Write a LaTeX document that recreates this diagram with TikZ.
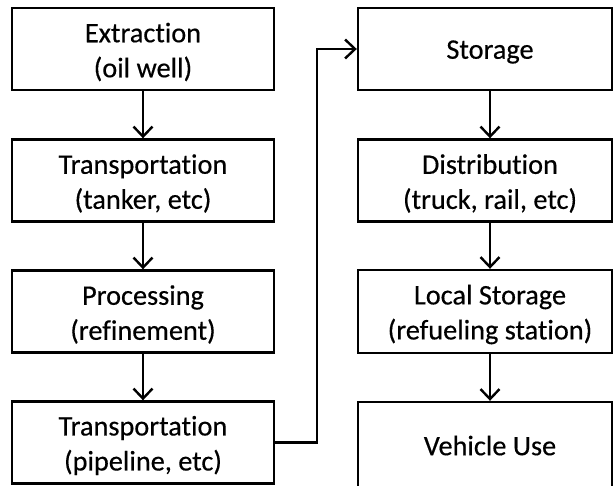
\documentclass[tikz,border=0pt]{standalone}
\usepackage{fontspec}
\setmainfont[Ligatures=NoCommon, FakeBold=0.4, BoldFont=Carlito, BoldFeatures={FakeBold=0.4}]{Carlito}
\usetikzlibrary{arrows.meta}
\begin{document}
\begin{tikzpicture}[x=1pt,y=-1pt,
  box/.style={draw=black, line width=2.4pt, fill=white, inner sep=0pt},
  lbl/.style={align=center, inner sep=0pt, font=\fontsize{28.3}{35}\selectfont\bfseries},
  leftbox/.style={box, minimum width=262pt, minimum height=82pt},
  arr/.style={draw=black, line width=2.4pt,
    -{Straight Barb[length=10pt, width=19pt, line width=2.4pt]}}]
  \useasboundingbox (0,0) rectangle (613,485);
  \clip (0,0) rectangle (613,485);

  % left column: from the well to the pipeline
  \node[leftbox] (ext) at (143,49)    {};
  \node[leftbox] (tan) at (143,180.5) {};
  \node[leftbox] (pro) at (143,311.5) {};
  \node[leftbox] (pip) at (143,442.5) {};
  \node[lbl] (extT) at (143,52)    {Extraction\\(oil well)};
  \node[lbl] (tanT) at (143,183.5) {Transportation\\(tanker, etc)};
  \node[lbl] (proT) at (143,314.5) {Processing\\(refinement)};
  \node[lbl] (pipT) at (143,445.5) {Transportation\\(pipeline, etc)};

  % right column: frames and their labels
  \node[box, minimum width=254pt, minimum height=82pt] (sto) at (485,49) {};
  \node[box, minimum width=254pt, minimum height=82pt] (dis) at (485,180.5) {};
  \node[box, minimum width=254pt, minimum height=83pt] (loc) at (485,311.5) {};
  \node[box, minimum width=254pt, minimum height=120pt] (veh) at (485,462) {};
  \node[lbl] (stoT) at (490,52)    {Storage};
  \node[lbl] (disT) at (490,183.5) {Distribution\\(truck, rail, etc)};
  \node[lbl] (locT) at (490,314.5) {Local Storage\\(refueling station)};
  \node[lbl] (vehT) at (490,445.5) {Vehicle Use};

  % flow arrows
  \draw[arr] (ext) -- (tan);
  \draw[arr] (tan) -- (pro);
  \draw[arr] (pro) -- (pip);
  \coordinate (jog) at (317,0);
  \draw[arr] (pip.east) -- (pip.east -| jog) |- (sto.west);
  \draw[arr] (sto.south -| stoT) -- (dis.north -| stoT);
  \draw[arr] (dis.south -| disT) -- (loc.north -| disT);
  \draw[arr] (loc.south -| locT) -- (veh.north -| locT);
\end{tikzpicture}
\end{document}
